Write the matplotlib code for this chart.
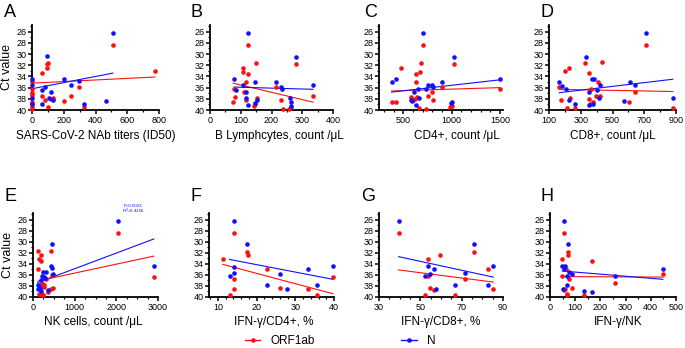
import numpy as np
import matplotlib
matplotlib.use('Agg')
import matplotlib.pyplot as plt
from matplotlib.ticker import MultipleLocator
from matplotlib.lines import Line2D

plt.rcParams['font.family'] = ['Liberation Sans', 'DejaVu Sans']

RED = '#ff1010'
BLUE = '#1010ff'

# A - NAb titers
a_blue_x = [0, 0, 0, 0, 65, 65, 82, 92, 107, 120, 134, 204, 246, 294, 326, 468, 510]
a_blue_y = [34.4, 35.6, 37.8, 39.0, 36.4, 39.0, 35.8, 30.4, 37.8, 36.7, 38.2, 34.4, 35.5, 34.9, 39.0, 38.4, 26.2]
a_red_x = [0, 0, 0, 0, 0, 0, 0, 0, 65, 65, 84, 92, 95, 100, 100, 122, 134, 204, 246, 294, 326, 510, 773]
a_red_y = [34.9, 36.2, 36.9, 37.3, 38.5, 39.0, 39.5, 39.9, 33.4, 37.5, 38.3, 31.7, 32.4, 31.6, 39.5, 38.1, 37.8, 38.4, 37.5, 35.9, 39.5, 28.3, 33.1]
a_fit_red = [35.2, 34.1]
a_fit_blue = [36.2, 33.4]

# B - B lymphocytes
b_blue_x = [78, 86, 108, 118, 118, 122, 125, 145, 147, 153, 215, 230, 235, 260, 262, 265, 280, 335]
b_blue_y = [34.4, 36.4, 35.6, 36.8, 37.9, 26.2, 39.1, 38.8, 35.0, 38.2, 35.0, 35.8, 36.2, 37.8, 38.5, 39.2, 30.5, 35.6]
b_red_x = [75, 78, 82, 108, 108, 112, 118, 118, 122, 122, 142, 145, 150, 153, 215, 230, 237, 258, 265, 280, 335]
b_red_y = [38.5, 36.3, 37.6, 32.4, 33.2, 36.8, 35.0, 38.2, 28.4, 33.5, 39.2, 38.9, 31.6, 37.8, 35.9, 38.3, 39.8, 39.8, 39.5, 31.8, 37.5]
b_fit_red = [35.2, 38.6]
b_fit_blue = [35.9, 36.3]

# C - CD4+
c_blue_x = [380, 430, 580, 590, 610, 630, 650, 660, 700, 730, 760, 800, 810, 900, 990, 1000, 1020, 1500]
c_blue_y = [35.0, 34.4, 38.2, 38.4, 36.7, 39.1, 36.3, 37.8, 26.2, 36.2, 35.5, 35.6, 35.8, 35.0, 38.8, 38.6, 30.5, 34.4]
c_red_x = [380, 430, 480, 580, 600, 620, 630, 630, 640, 660, 670, 680, 700, 730, 760, 800, 810, 900, 980, 1000, 1020, 1500]
c_red_y = [38.6, 38.5, 32.4, 37.6, 38.3, 38.0, 33.5, 35.0, 37.6, 39.7, 33.2, 31.6, 28.4, 39.8, 37.5, 36.7, 38.3, 35.9, 39.5, 39.3, 31.8, 36.3]
c_fit_red = [36.6, 36.0]
c_fit_blue = [36.8, 34.6]

# D - CD8+
d_blue_x = [165, 180, 210, 225, 265, 330, 350, 355, 370, 375, 385, 400, 415, 420, 570, 610, 640, 710, 880]
d_blue_y = [35.0, 35.7, 36.2, 38.2, 39.0, 30.5, 36.7, 39.1, 34.4, 38.9, 34.5, 36.4, 37.8, 35.6, 38.4, 35.0, 35.6, 26.2, 37.8]
d_red_x = [165, 175, 200, 215, 225, 230, 265, 325, 350, 355, 360, 365, 380, 395, 410, 420, 435, 605, 640, 710, 880]
d_red_y = [35.8, 38.2, 33.1, 39.7, 32.4, 37.8, 39.6, 31.6, 33.4, 38.1, 39.0, 36.2, 38.5, 37.5, 35.0, 37.5, 31.5, 38.6, 36.7, 28.4, 39.6]
d_fit_red = [36.3, 36.7]
d_fit_blue = [36.9, 34.5]

# E - NK cells
e_blue_x = [110, 130, 150, 170, 180, 200, 220, 250, 260, 280, 300, 360, 440, 450, 450, 480, 2040, 2900]
e_blue_y = [38.5, 37.8, 38.3, 38.4, 39.0, 36.9, 36.2, 35.5, 36.4, 36.6, 35.5, 38.7, 34.4, 34.8, 30.5, 35.8, 26.2, 34.4]
e_red_x = [120, 130, 140, 150, 180, 190, 200, 200, 230, 240, 250, 260, 270, 300, 360, 430, 440, 450, 470, 480, 2040, 2900]
e_red_y = [31.6, 35.0, 39.5, 33.1, 33.4, 32.4, 37.7, 39.5, 39.6, 39.7, 37.6, 37.9, 38.2, 36.7, 39.1, 38.5, 31.7, 36.0, 38.3, 36.0, 28.4, 36.3]
e_fit_red = [37.1, 32.6]
e_fit_blue = [37.4, 29.5]

# F - IFN-g/CD4+
f_blue_x = [13.0, 14.2, 14.2, 14.2, 17.4, 22.8, 26.0, 27.9, 33.4, 35.6, 39.7]
f_blue_y = [36.2, 26.2, 34.5, 35.7, 30.5, 37.9, 35.9, 38.5, 35.0, 37.8, 34.4]
f_red_x = [11.3, 13.0, 14.2, 14.2, 14.2, 17.4, 17.9, 22.8, 26.0, 33.4, 35.6, 39.7]
f_red_y = [33.2, 39.7, 28.4, 36.8, 38.5, 31.8, 32.4, 35.0, 38.3, 38.6, 39.6, 36.3]
f_fit_red = [34.1, 39.4]
f_fit_blue = [33.2, 36.8]

# G - IFN-g/CD8+
g_blue_x = [39.5, 52.5, 53.8, 54.6, 56.7, 57.5, 66.7, 71.6, 76.1, 82.6, 85.3]
g_blue_y = [26.2, 36.2, 34.4, 35.9, 35.0, 38.5, 37.8, 35.6, 30.5, 37.8, 34.4]
g_red_x = [39.5, 52.5, 53.8, 53.8, 54.6, 56.8, 59.7, 66.7, 71.6, 76.1, 82.6, 85.3]
g_red_y = [28.4, 39.7, 33.2, 36.2, 38.3, 38.7, 32.4, 39.7, 36.8, 31.8, 35.0, 38.5]
g_fit_red = [35.1, 37.3]
g_fit_blue = [32.7, 36.4]

# H - IFN-g/NK
h_blue_x = [49, 50, 56, 56, 61, 66, 69, 73, 74, 88, 135, 168, 256, 448]
h_blue_y = [34.4, 38.5, 26.2, 35.0, 34.4, 36.2, 37.8, 30.5, 35.5, 35.9, 39.0, 39.1, 36.2, 35.0]
h_red_x = [46, 49, 56, 56, 60, 65, 66, 69, 73, 73, 74, 88, 135, 168, 256, 448]
h_red_y = [33.2, 36.2, 28.4, 38.7, 38.5, 35.0, 39.5, 39.7, 31.8, 32.4, 36.8, 38.3, 39.6, 33.5, 37.5, 35.9]
h_fit_red = [36.3, 36.4]
h_fit_blue = [35.3, 36.8]

panels = [
    ('A', a_red_x, a_red_y, a_blue_x, a_blue_y, a_fit_red, a_fit_blue,
     'SARS-CoV-2 NAb titers (ID50)', (0, 800), [0, 200, 400, 600, 800], 100),
    ('B', b_red_x, b_red_y, b_blue_x, b_blue_y, b_fit_red, b_fit_blue,
     'B Lymphcytes, count /μL', (0, 400), [0, 100, 200, 300, 400], 50),
    ('C', c_red_x, c_red_y, c_blue_x, c_blue_y, c_fit_red, c_fit_blue,
     'CD4+, count /μL', (250, 1530), [500, 1000, 1500], 100),
    ('D', d_red_x, d_red_y, d_blue_x, d_blue_y, d_fit_red, d_fit_blue,
     'CD8+, count /μL', (100, 900), [100, 300, 500, 700, 900], 100),
    ('E', e_red_x, e_red_y, e_blue_x, e_blue_y, e_fit_red, e_fit_blue,
     'NK cells, count /μL', (0, 3000), [0, 1000, 2000, 3000], 250),
    ('F', f_red_x, f_red_y, f_blue_x, f_blue_y, f_fit_red, f_fit_blue,
     'IFN-γ/CD4+, %', (7.7, 40), [10, 20, 30, 40], 2),
    ('G', g_red_x, g_red_y, g_blue_x, g_blue_y, g_fit_red, g_fit_blue,
     'IFN-γ/CD8+, %', (30, 90), [30, 50, 70, 90], 5),
    ('H', h_red_x, h_red_y, h_blue_x, h_blue_y, h_fit_red, h_fit_blue,
     'IFN-γ/NK', (0, 500), [0, 100, 200, 300, 400, 500], 50),
]

W, H = 685, 348
fig = plt.figure(figsize=(W / 100, H / 100), dpi=100)

# axes boxes in pixels: left, right, top, bottom
boxes = [(32, 159, 25, 110), (210, 333, 25, 110), (379, 503, 25, 110), (549, 676, 25, 110),
         (33, 158, 213, 297), (209, 334, 213, 297), (379, 503, 213, 297), (550, 676, 213, 297)]
letter_pos = [(4, 4), (190, 4), (364, 4), (541, 4), (5, 188), (191, 188), (361, 188), (541, 188)]
xlab_frac = [0.5, 0.56, 0.63, 0.5, 0.48, 0.52, 0.5, 0.54]

for i, (letter, rx, ry, bx, by, fr, fb, xlabel, xlim, xticks, xminor) in enumerate(panels):
    l, r, t, b = boxes[i]
    ax = fig.add_axes([l / W, 1 - b / H, (r - l) / W, (b - t) / H])
    ax.spines['top'].set_visible(False)
    ax.spines['right'].set_visible(False)
    for s in ('left', 'bottom'):
        ax.spines[s].set_linewidth(1.3)

    # regression lines over the range of each series
    ax.plot([min(rx), max(rx)], fr, color=RED, lw=0.8, zorder=2)
    ax.plot([min(bx), max(bx)], fb, color=BLUE, lw=0.8, zorder=2)
    ax.plot(rx, ry, 'o', color=RED, ms=3.3, mew=0, clip_on=False, zorder=3)
    ax.plot(bx, by, 'o', color=BLUE, ms=3.3, mew=0, clip_on=False, zorder=3)

    ax.set_xlim(*xlim)
    ax.set_ylim(40, 24.8)
    ax.set_yticks(np.arange(26, 41, 2))
    ax.yaxis.set_minor_locator(MultipleLocator(1))
    ax.set_xticks(xticks)
    ax.xaxis.set_minor_locator(MultipleLocator(xminor))
    ax.tick_params(axis='both', which='major', labelsize=6.5, length=3, width=1.1, pad=1)
    ax.tick_params(axis='both', which='minor', length=1.6, width=0.9)

    ax.set_xlabel(xlabel, fontsize=8.5)
    ax.xaxis.set_label_coords(xlab_frac[i], -0.23)
    if letter in ('A', 'E'):
        ax.set_ylabel('Ct value', fontsize=9)
        ax.yaxis.set_label_coords(-0.15, 0.5)

    fig.text(letter_pos[i][0] / W, 1 - letter_pos[i][1] / H, letter,
             fontsize=13, va='top', ha='left')

    if letter == 'E':
        ax.text(0.80, 1.085, 'P=0.0023', transform=ax.transAxes, fontsize=3.2,
                color=BLUE, ha='center', va='center')
        ax.text(0.80, 1.015, 'R$^2$=0.4105', transform=ax.transAxes, fontsize=3.2,
                color=BLUE, ha='center', va='center')

handles = [Line2D([], [], color=RED, marker='o', ms=3.3, mew=0, lw=1.0),
           Line2D([], [], color=BLUE, marker='o', ms=3.3, mew=0, lw=1.0)]
fig.legend(handles, ['ORF1ab', 'N'], loc='center', bbox_to_anchor=(0.497, 0.02),
           ncol=2, frameon=False, fontsize=8.5, handlelength=1.3,
           handletextpad=0.9, columnspacing=7.3)

fig.savefig('out.png', dpi=100)
